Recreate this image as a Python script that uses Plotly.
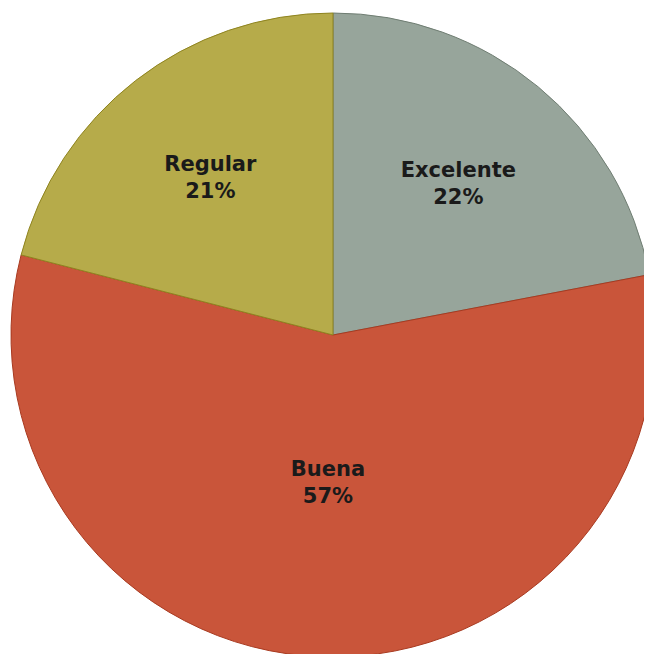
import plotly.graph_objects as go

labels = ["Excelente", "Buena", "Regular"]
values = [22, 57, 21]
colors = ["#97a59b", "#c9553a", "#b6ab4a"]
outline = ["#6f7d72", "#a83a20", "#8f8420"]

W, H = 652, 654
base = "<b>%{label}</b><br><b>%{percent:.0%}</b>"
templates = [base, base + "<br> ", base]

fig = go.Figure(go.Pie(
    labels=labels,
    values=values,
    sort=False,
    direction="clockwise",
    rotation=0,
    marker=dict(colors=colors, line=dict(color=outline, width=1)),
    texttemplate=templates,
    textposition="inside",
    insidetextorientation="horizontal",
    textfont=dict(family="DejaVu Sans", size=21, color="#1a1a1a"),
    hoverinfo="label+percent",
    showlegend=False,
    domain=dict(x=[3 / W, 647 / W], y=[5 / H, 649 / H]),
))
fig.update_layout(
    width=W, height=H,
    margin=dict(l=0, r=0, t=0, b=0),
    paper_bgcolor="white",
    plot_bgcolor="white",
    uniformtext=dict(minsize=21, mode="show"),
)
fig.write_html("out.html")
